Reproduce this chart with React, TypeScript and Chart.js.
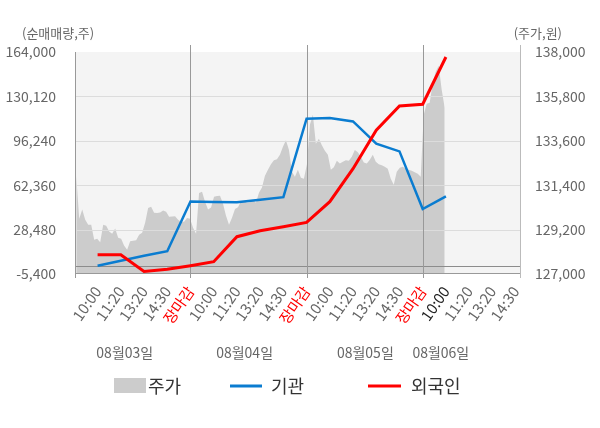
import { useEffect, useRef } from "react";
import { Chart, registerables } from "chart.js";

Chart.register(...registerables);

const FONT = "'Noto Sans CJK KR', 'Noto Sans', sans-serif";

const timeLabels = [
  "10:00", "11:20", "13:20", "14:30", "장마감",
  "10:00", "11:20", "13:20", "14:30", "장마감",
  "10:00", "11:20", "13:20", "14:30", "장마감",
  "10:00", "11:20", "13:20", "14:30",
];
const closeIndices = [4, 9, 14];
const todayOpenIndex = 15;
const dateLabels = ["08월03일", "08월04일", "08월05일", "08월06일"];
const datePositions = [1.17, 6.33, 11.53, 14.78];

// 순매매량 (left axis)
const institution = [930, 4750, 8560, 12000, 50000, 49540, 49390, 51300, 53200, 113100, 113640, 111040, 94030, 88150, 44200, 53810];
const foreign = [9330, 9330, -3420, -1740, 930, 3990, 23060, 27640, 30690, 33970, 49770, 74950, 104330, 122790, 124170, 160180];

const leftTicks = [-5400, 28480, 62360, 96240, 130120, 164000];
const rightTicks = [127000, 129200, 131400, 133600, 135800, 138000];

// 주가 (right axis), sampled along the time index
const priceStart = -0.92;
const priceStep = 0.129;
const price = [
  131870, 129740, 130190, 129690, 129440, 129440, 128700, 128750, 128570, 129440,
  129390, 129110, 129000, 129250, 128800, 128750, 128400, 128200, 128620, 128650,
  128670, 128950, 129050, 129540, 130270, 130330, 130040, 130020, 130050, 130150,
  130090, 129840, 129850, 129860, 129690, 129590, 129590, 129770, 129740, 129290,
  129000, 131010, 131080, 130580, 130190, 130290, 130830, 130860, 130880, 130480,
  129890, 129440, 129790, 130220, 130310, 130610, 130610, 130530, 130560, 130680,
  130530, 131030, 131280, 131870, 132170, 132440, 132640, 132690, 132910, 133310,
  133630, 133160, 132070, 131820, 132170, 131770, 131720, 132420, 134400, 134890,
  133460, 133700, 133380, 133110, 132910, 132170, 132290, 132610, 132470, 132560,
  132640, 132610, 132810, 133140, 133030, 132810, 132520, 132470, 132660, 132910,
  132560, 132440, 132390, 132320, 132220, 131720, 131420, 132070, 132270, 132320,
  132220, 132170, 132120, 132040, 131970, 131820, 134890, 135440, 135490, 136480,
  137020, 137320, 136130, 135240,
];

const fmt = (v: number) => v.toLocaleString("en-US");

const decor = {
  id: "decor",
  beforeDatasetsDraw(chart: any) {
    const { ctx, chartArea: a } = chart;
    ctx.save();
    ctx.fillStyle = "#f4f4f4";
    ctx.fillRect(a.left, a.top, a.right - a.left, a.bottom - a.top);
    ctx.restore();
  },
  afterDatasetDraw(chart: any, args: any) {
    if (args.index !== 0) return;
    const { ctx, chartArea: a, scales } = chart;
    const yL = scales.yL;
    const x = scales.x;
    ctx.save();
    ctx.lineWidth = 1;
    // horizontal grid
    ctx.strokeStyle = "#dcdcdc";
    leftTicks.forEach((t) => {
      if (t === leftTicks[0] || t === leftTicks[leftTicks.length - 1]) return;
      const y = Math.round(yL.getPixelForValue(t)) + 0.5;
      ctx.beginPath();
      ctx.moveTo(a.left, y);
      ctx.lineTo(a.right, y);
      ctx.stroke();
    });
    // zero line
    ctx.strokeStyle = "#8c8c8c";
    const y0 = Math.round(yL.getPixelForValue(0)) - 0.5;
    ctx.beginPath();
    ctx.moveTo(a.left, y0);
    ctx.lineTo(a.right, y0);
    ctx.stroke();
    // bottom line
    ctx.strokeStyle = "#999999";
    const yb = Math.round(a.bottom) - 0.5;
    ctx.beginPath();
    ctx.moveTo(a.left, yb);
    ctx.lineTo(a.right, yb);
    ctx.stroke();
    // vertical session-close lines
    ctx.strokeStyle = "#999999";
    closeIndices.forEach((i) => {
      const px = Math.round(x.getPixelForValue(i)) + 0.5;
      ctx.beginPath();
      ctx.moveTo(px, a.top - 7);
      ctx.lineTo(px, a.bottom + 4);
      ctx.stroke();
    });
    // left & right borders
    const lx = Math.round(a.left) - 0.5;
    ctx.beginPath();
    ctx.moveTo(lx, a.top);
    ctx.lineTo(lx, a.bottom + 4);
    ctx.stroke();
    ctx.strokeStyle = "#bbbbbb";
    const rx = Math.round(a.right) + 0.5;
    ctx.beginPath();
    ctx.moveTo(rx, a.top - 7);
    ctx.lineTo(rx, a.bottom + 4);
    ctx.stroke();
    ctx.restore();
  },
  afterDraw(chart: any) {
    const { ctx, chartArea: a, scales } = chart;
    const x = scales.x;
    ctx.save();
    // axis titles
    ctx.font = `13px ${FONT}`;
    ctx.fillStyle = "#666666";
    ctx.textBaseline = "middle";
    ctx.textAlign = "left";
    ctx.fillText("(순매매량,주)", 22, a.top - 19);
    ctx.textAlign = "right";
    ctx.fillText("(주가,원)", 562, a.top - 19);
    // date labels
    ctx.font = `14px ${FONT}`;
    ctx.textAlign = "center";
    dateLabels.forEach((d, i) => {
      ctx.fillText(d, x.getPixelForValue(datePositions[i]), a.bottom + 79);
    });
    // legend
    const ly = a.bottom + 112;
    ctx.font = `18px ${FONT}`;
    ctx.textAlign = "left";
    ctx.fillStyle = "#cccccc";
    ctx.fillRect(114, ly - 8, 32, 15);
    ctx.fillStyle = "#333333";
    ctx.fillText("주가", 148, ly);
    ctx.lineWidth = 3;
    ctx.strokeStyle = "#0a7cd0";
    ctx.beginPath();
    ctx.moveTo(230, ly);
    ctx.lineTo(262, ly);
    ctx.stroke();
    ctx.fillText("기관", 271, ly);
    ctx.strokeStyle = "#ff0000";
    ctx.beginPath();
    ctx.moveTo(368, ly);
    ctx.lineTo(401, ly);
    ctx.stroke();
    ctx.fillText("외국인", 411, ly);
    ctx.restore();
  },
};

export default function App() {
  const ref = useRef<HTMLCanvasElement | null>(null);
  useEffect(() => {
    if (!ref.current) return;
    Chart.defaults.font.family = FONT;
    const chart = new Chart(ref.current, {
      type: "line",
      data: {
        datasets: [
          {
            label: "주가",
            data: price.map((p, k) => ({ x: priceStart + k * priceStep, y: p })),
            yAxisID: "yR",
            fill: "start",
            backgroundColor: "#cccccc",
            borderWidth: 0,
            borderColor: "rgba(0,0,0,0)",
            pointRadius: 0,
            tension: 0,
            order: 3,
          },
          {
            label: "기관",
            data: institution.map((v, i) => ({ x: i, y: v })),
            yAxisID: "yL",
            borderColor: "#0a7cd0",
            borderWidth: 2.5,
            pointRadius: 0,
            fill: false,
            tension: 0,
            order: 2,
          },
          {
            label: "외국인",
            data: foreign.map((v, i) => ({ x: i, y: v })),
            yAxisID: "yL",
            borderColor: "#ff0000",
            borderWidth: 3,
            pointRadius: 0,
            fill: false,
            tension: 0,
            order: 1,
          },
        ],
      },
      options: {
        animation: false,
        responsive: true,
        maintainAspectRatio: false,
        layout: { padding: { top: 52, bottom: 94, left: 0, right: 0 } },
        plugins: { legend: { display: false }, tooltip: { enabled: false } },
        scales: {
          x: {
            type: "linear",
            min: -0.93,
            max: 18.19,
            afterBuildTicks: (s: any) => {
              s.ticks = timeLabels.map((_, i) => ({ value: i }));
            },
            afterFit: (s: any) => {
              s.height = 60;
            },
            grid: { display: false },
            border: { display: false },
            ticks: {
              autoSkip: false,
              maxRotation: 55,
              minRotation: 55,
              padding: 1,
              font: { size: 15, family: FONT },
              color: (c: any) =>
                closeIndices.includes(c.index) ? "#ff0000" : c.index === todayOpenIndex ? "#222222" : "#666666",
              callback: (v: any) => timeLabels[v as number] ?? "",
            },
          },
          yL: {
            type: "linear",
            position: "left",
            min: -5400,
            max: 164000,
            afterBuildTicks: (s: any) => {
              s.ticks = leftTicks.map((v) => ({ value: v }));
            },
            afterFit: (s: any) => {
              s.width = 76;
            },
            grid: { display: false },
            border: { display: false },
            ticks: {
              padding: 12,
              font: { size: 14, family: FONT },
              color: "#666666",
              callback: (v: any) => fmt(v as number),
            },
          },
          yR: {
            type: "linear",
            position: "right",
            min: 127000,
            max: 138000,
            afterBuildTicks: (s: any) => {
              s.ticks = rightTicks.map((v) => ({ value: v }));
            },
            afterFit: (s: any) => {
              s.width = 80;
            },
            grid: { display: false },
            border: { display: false },
            ticks: {
              padding: 7,
              font: { size: 14, family: FONT },
              color: "#666666",
              callback: (v: any) => fmt(v as number),
            },
          },
        },
      },
      plugins: [decor],
    });
    return () => chart.destroy();
  }, []);
  return (
    <div style={{ position: "absolute", left: 0, top: 0, width: 600, height: 428, background: "#ffffff" }}>
      <canvas ref={ref} />
    </div>
  );
}
